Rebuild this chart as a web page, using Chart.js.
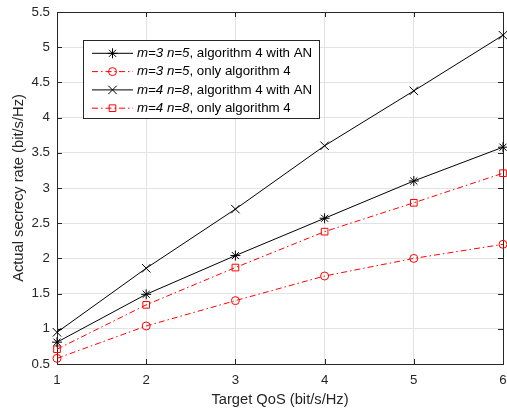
<!DOCTYPE html>
<html>
<head>
<meta charset="utf-8">
<script src="https://cdn.jsdelivr.net/npm/chart.js@4/dist/chart.umd.min.js"></script>
<style>
  html, body { margin: 0; padding: 0; background: #fff; }
  canvas { display: block; }
</style>
</head>
<body>
<canvas id="c" width="507" height="409"></canvas>
<script>
// Target QoS values (bit/s/Hz)
const qos = [1, 2, 3, 4, 5, 6];

// Actual secrecy rate per scheme (bit/s/Hz)
const m3n5WithAN = [0.81, 1.49, 2.04, 2.57, 3.10, 3.58];
const m3n5Only   = [0.58, 1.04, 1.40, 1.75, 2.00, 2.20];
const m4n8WithAN = [0.95, 1.86, 2.70, 3.60, 4.38, 5.17];
const m4n8Only   = [0.71, 1.34, 1.87, 2.38, 2.79, 3.21];

const seriesLabels = [
  'm=3 n=5, algorithm 4 with AN',
  'm=3 n=5, only algorithm 4',
  'm=4 n=8, algorithm 4 with AN',
  'm=4 n=8, only algorithm 4'
];

const yTicks = [0.5, 1, 1.5, 2, 2.5, 3, 3.5, 4, 4.5, 5, 5.5];
const xTitle = 'Target QoS (bit/s/Hz)';
const yTitle = 'Actual secrecy rate (bit/s/Hz)';

const FONT = "'Liberation Sans', Arial, sans-serif";
const AXIS = '#262626';
const DASHDOT = [6, 3, 1.5, 3];

const pts = ys => qos.map((x, i) => ({ x, y: ys[i] }));

function series(label, ys, color, style, radius, dash) {
  return {
    label,
    data: pts(ys),
    borderColor: color,
    backgroundColor: 'rgba(0,0,0,0)',
    borderWidth: 1,
    borderDash: dash || [],
    pointStyle: style,
    pointRadius: radius,
    pointHoverRadius: radius,
    pointBorderColor: color,
    pointBackgroundColor: 'rgba(0,0,0,0)',
    pointBorderWidth: 1,
    tension: 0,
    clip: false
  };
}

// MATLAB-style frame: full box with inward tick marks on all four sides
const framePlugin = {
  id: 'frame',
  beforeDatasetsDraw(chart) {
    const { ctx, chartArea: a, scales } = chart;
    const len = 5;
    ctx.save();
    ctx.strokeStyle = AXIS;
    ctx.lineWidth = 1;
    ctx.beginPath();
    scales.x.ticks.forEach(t => {
      const px = Math.round(scales.x.getPixelForValue(t.value)) + 0.5;
      ctx.moveTo(px, a.bottom); ctx.lineTo(px, a.bottom - len);
      ctx.moveTo(px, a.top); ctx.lineTo(px, a.top + len);
    });
    scales.y.ticks.forEach(t => {
      const py = Math.round(scales.y.getPixelForValue(t.value)) + 0.5;
      ctx.moveTo(a.left, py); ctx.lineTo(a.left + len, py);
      ctx.moveTo(a.right, py); ctx.lineTo(a.right - len, py);
    });
    ctx.stroke();
    ctx.strokeRect(Math.round(a.left) + 0.5, Math.round(a.top) + 0.5,
                   Math.round(a.right - a.left), Math.round(a.bottom - a.top));
    ctx.restore();
  }
};

// Boxed legend with italic parameter part of each label
const legendPlugin = {
  id: 'boxLegend',
  afterDraw(chart) {
    const { ctx } = chart;
    const bx = 83.5, by = 40.5, bw = 236, bh = 78;
    const row0 = 53.3, rowStep = 18.3;
    const lineX0 = 92, lineX1 = 133, markX = 112.5, textX = 137;
    const fs = 13.3;
    ctx.save();
    ctx.fillStyle = '#fff';
    ctx.fillRect(bx, by, bw, bh);
    ctx.strokeStyle = AXIS;
    ctx.lineWidth = 1;
    ctx.strokeRect(bx, by, bw, bh);
    chart.data.datasets.forEach((ds, i) => {
      const y = row0 + i * rowStep;
      ctx.save();
      ctx.strokeStyle = ds.borderColor;
      ctx.lineWidth = ds.borderWidth;
      ctx.setLineDash(ds.borderDash);
      ctx.beginPath();
      ctx.moveTo(lineX0, y); ctx.lineTo(lineX1, y);
      ctx.stroke();
      ctx.setLineDash([]);
      ctx.strokeStyle = ds.pointBorderColor;
      ctx.fillStyle = ds.pointBackgroundColor;
      Chart.helpers.drawPoint(ctx, {
        pointStyle: ds.pointStyle, radius: ds.pointRadius, borderWidth: 1, rotation: 0
      }, markX, y);
      ctx.restore();
      const idx = ds.label.indexOf(',');
      const head = ds.label.slice(0, idx);
      const tail = ds.label.slice(idx);
      ctx.fillStyle = '#000';
      ctx.textBaseline = 'middle';
      ctx.textAlign = 'left';
      ctx.font = 'italic ' + fs + 'px ' + FONT;
      ctx.fillText(head, textX, y);
      const w = ctx.measureText(head).width;
      ctx.font = fs + 'px ' + FONT;
      ctx.fillText(tail, textX + w, y);
    });
    ctx.restore();
  }
};

new Chart(document.getElementById('c'), {
  type: 'line',
  data: {
    datasets: [
      series(seriesLabels[0], m3n5WithAN, '#000000', 'star', 5),
      series(seriesLabels[1], m3n5Only, '#ff0000', 'circle', 4, DASHDOT),
      series(seriesLabels[2], m4n8WithAN, '#000000', 'crossRot', 6),
      series(seriesLabels[3], m4n8Only, '#ff0000', 'rect', 4.7, DASHDOT)
    ]
  },
  options: {
    responsive: false,
    animation: false,
    events: [],
    layout: { autoPadding: false, padding: { left: 0, right: 4, top: 12, bottom: 0 } },
    plugins: { legend: { display: false }, tooltip: { enabled: false } },
    scales: {
      x: {
        type: 'linear',
        min: 1, max: 6,
        afterFit(s) { s.height = 45; s.paddingLeft = 0; s.paddingRight = 0; },
        afterBuildTicks(s) { s.ticks = qos.map(v => ({ value: v })); },
        grid: { color: '#e3e3e3', lineWidth: 1, drawTicks: false },
        border: { display: false },
        ticks: {
          color: AXIS, padding: 8, maxRotation: 0,
          font: { family: FONT, size: 13.3 },
          callback: v => String(v)
        },
        title: {
          display: true, text: xTitle, color: AXIS,
          font: { family: FONT, size: 14.7 }, padding: { top: 0, bottom: 0 }
        }
      },
      y: {
        type: 'linear',
        min: 0.5, max: 5.5,
        afterFit(s) { s.width = 57; s.paddingTop = 0; s.paddingBottom = 0; },
        afterBuildTicks(s) { s.ticks = yTicks.map(v => ({ value: v })); },
        grid: { color: '#e3e3e3', lineWidth: 1, drawTicks: false },
        border: { display: false },
        ticks: {
          color: AXIS, padding: 7,
          font: { family: FONT, size: 13.3 },
          callback: v => String(v)
        },
        title: {
          display: true, text: yTitle, color: AXIS,
          font: { family: FONT, size: 14.7 }, padding: { top: 10, bottom: 0 }
        }
      }
    }
  },
  plugins: [framePlugin, legendPlugin]
});
</script>
</body>
</html>
